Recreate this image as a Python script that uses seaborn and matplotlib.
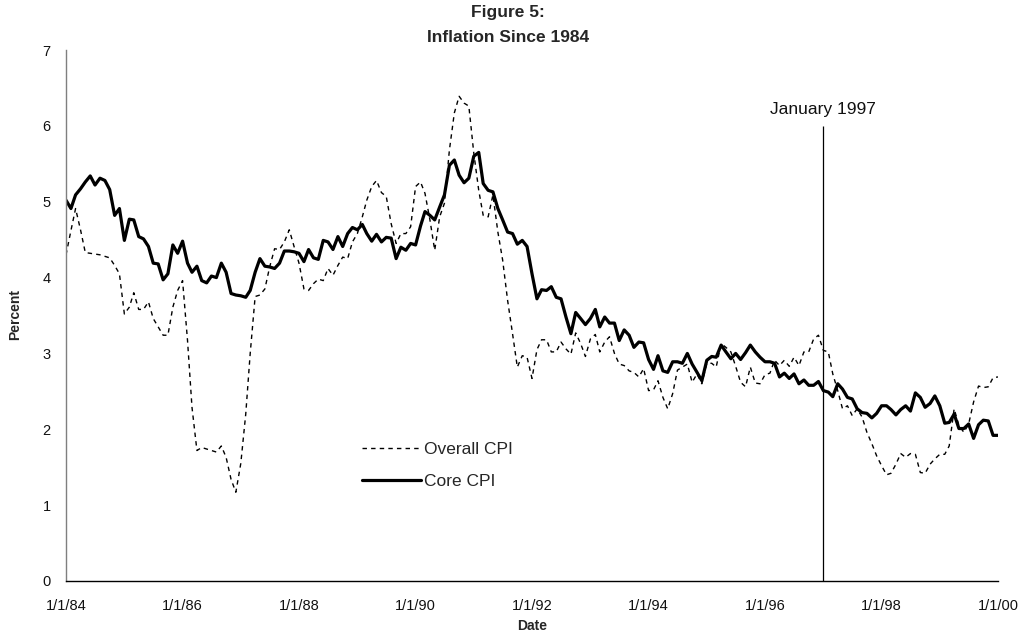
import numpy as np
import pandas as pd
import matplotlib
matplotlib.use("Agg")
import matplotlib.pyplot as plt
import seaborn as sns

# ---- data (monthly, Jan 1984 .. Jan 2000) ----
start_month = "1984-01-01"
core_cpi = [
    5.02, 4.91, 5.09, 5.17, 5.26, 5.34, 5.22, 5.31, 5.28, 5.16, 4.82, 4.91,
    4.49, 4.77, 4.76, 4.54, 4.51, 4.41, 4.19, 4.18, 3.97, 4.05, 4.43, 4.32,
    4.48, 4.19, 4.07, 4.15, 3.96, 3.93, 4.02, 4.00, 4.19, 4.07, 3.79, 3.77,
    3.76, 3.74, 3.83, 4.07, 4.25, 4.15, 4.14, 4.12, 4.19, 4.35, 4.35, 4.34,
    4.32, 4.21, 4.37, 4.26, 4.24, 4.49, 4.47, 4.37, 4.54, 4.41, 4.58, 4.66,
    4.63, 4.70, 4.58, 4.48, 4.57, 4.47, 4.53, 4.52, 4.25, 4.40, 4.36, 4.45,
    4.43, 4.68, 4.87, 4.82, 4.76, 4.93, 5.09, 5.48, 5.55, 5.35, 5.25, 5.31,
    5.60, 5.65, 5.24, 5.15, 5.13, 4.91, 4.76, 4.60, 4.58, 4.44, 4.49, 4.41,
    4.05, 3.72, 3.84, 3.83, 3.88, 3.74, 3.72, 3.48, 3.26, 3.54, 3.46, 3.38,
    3.46, 3.58, 3.35, 3.48, 3.40, 3.40, 3.17, 3.31, 3.24, 3.08, 3.15, 3.14,
    2.92, 2.79, 2.97, 2.77, 2.75, 2.89, 2.89, 2.87, 3.00, 2.86, 2.75, 2.64,
    2.91, 2.96, 2.95, 3.11, 3.02, 2.93, 3.00, 2.92, 3.01, 3.11, 3.02, 2.95,
    2.89, 2.89, 2.87, 2.69, 2.74, 2.67, 2.73, 2.60, 2.65, 2.58, 2.58, 2.63,
    2.51, 2.49, 2.43, 2.60, 2.53, 2.42, 2.40, 2.27, 2.22, 2.21, 2.15, 2.21,
    2.31, 2.31, 2.26, 2.19, 2.26, 2.31, 2.24, 2.48, 2.42, 2.29, 2.34, 2.44,
    2.31, 2.08, 2.09, 2.20, 2.01, 2.01, 2.07, 1.88, 2.06, 2.12, 2.11, 1.92,
    1.92,
]
overall_cpi = [
    4.30, 4.62, 4.91, 4.63, 4.33, 4.32, 4.31, 4.30, 4.28, 4.26, 4.16, 4.05,
    3.52, 3.61, 3.80, 3.58, 3.58, 3.68, 3.46, 3.35, 3.24, 3.24, 3.61, 3.83,
    3.96, 3.17, 2.29, 1.72, 1.76, 1.74, 1.72, 1.70, 1.78, 1.63, 1.34, 1.17,
    1.55, 2.20, 3.00, 3.75, 3.77, 3.85, 4.14, 4.38, 4.37, 4.47, 4.63, 4.41,
    4.19, 3.85, 3.83, 3.92, 3.98, 3.96, 4.12, 4.03, 4.16, 4.27, 4.25, 4.47,
    4.58, 4.80, 5.02, 5.20, 5.28, 5.12, 5.07, 4.71, 4.45, 4.58, 4.58, 4.67,
    5.20, 5.26, 5.11, 4.76, 4.36, 4.80, 4.98, 5.68, 6.17, 6.39, 6.30, 6.26,
    5.64, 5.15, 4.82, 4.80, 5.09, 4.60, 4.23, 3.70, 3.26, 2.82, 2.97, 2.95,
    2.67, 3.05, 3.18, 3.18, 3.02, 3.02, 3.15, 3.06, 2.99, 3.27, 3.13, 2.96,
    3.19, 3.25, 3.02, 3.15, 3.22, 3.00, 2.86, 2.84, 2.77, 2.75, 2.69, 2.80,
    2.51, 2.52, 2.64, 2.42, 2.27, 2.47, 2.78, 2.82, 2.86, 2.62, 2.73, 2.60,
    2.87, 2.87, 2.82, 3.13, 3.08, 3.02, 2.83, 2.62, 2.56, 2.82, 2.61, 2.60,
    2.72, 2.74, 2.91, 2.84, 2.91, 2.83, 2.95, 2.84, 3.02, 3.02, 3.19, 3.24,
    3.04, 3.02, 2.73, 2.51, 2.27, 2.31, 2.18, 2.27, 2.16, 1.96, 1.81, 1.65,
    1.52, 1.40, 1.42, 1.54, 1.68, 1.63, 1.68, 1.67, 1.43, 1.42, 1.54, 1.61,
    1.67, 1.67, 1.78, 2.27, 2.05, 1.96, 2.07, 2.36, 2.57, 2.55, 2.56, 2.68,
    2.69,
]
tick_years = [1984, 1986, 1988, 1990, 1992, 1994, 1996, 1998, 2000]
tick_labels = ["1/1/84", "1/1/86", "1/1/88", "1/1/90", "1/1/92",
               "1/1/94", "1/1/96", "1/1/98", "1/1/00"]
y_ticks = [0, 1, 2, 3, 4, 5, 6, 7]
marker_date = "1997-01-01"
marker_label = "January 1997"
marker_top = 6.0

dates = pd.date_range(start_month, periods=len(core_cpi), freq="MS")
df = pd.DataFrame({"Date": dates, "Overall CPI": overall_cpi, "Core CPI": core_cpi})

sns.set_style("white")
plt.rcParams["font.family"] = ["Liberation Sans", "DejaVu Sans"]

fig = plt.figure(figsize=(10.22, 6.35), dpi=100)
ax = fig.add_axes([66 / 1022, 54 / 635, (998 - 66) / 1022, (581 - 50) / 635])

sns.lineplot(data=df, x="Date", y="Overall CPI", ax=ax, color="black",
             linewidth=1.0, linestyle=(0, (3.2, 3.0)), label="Overall CPI")
sns.lineplot(data=df, x="Date", y="Core CPI", ax=ax, color="black",
             linewidth=2.3, label="Core CPI")

md = pd.Timestamp(marker_date)
ax.vlines(md, 0, marker_top, color="black", linewidth=0.9)
ax.text(md, marker_top + 0.12, marker_label, ha="center", va="bottom",
        fontsize=12.5, color="#111111")

ax.set_xlim(dates[0], dates[-1])
ax.set_ylim(0, 7)
ax.set_xticks([pd.Timestamp(f"{y}-01-01") for y in tick_years])
ax.set_xticklabels(tick_labels)
ax.set_yticks(y_ticks)
ax.set_yticklabels([str(v) for v in y_ticks])
ax.tick_params(axis="both", direction="out", length=5, width=0.9,
               colors="#222222", labelsize=10.5, labelcolor="#111111")
ax.tick_params(axis="x", pad=8)
ax.tick_params(axis="y", pad=6)

for s in ["top", "right"]:
    ax.spines[s].set_visible(False)
ax.spines["left"].set_color("#7f7f7f")
ax.spines["left"].set_linewidth(1.0)
ax.spines["bottom"].set_color("black")
ax.spines["bottom"].set_linewidth(1.0)

ax.set_xlabel("")
ax.set_ylabel("")
fig.text(15 / 1022, 1 - 315 / 635, "Percent", rotation=90, ha="center",
         va="center", fontsize=10, fontweight="bold")
fig.text(532 / 1022, 1 - 626 / 635, "Date", ha="center", va="center",
         fontsize=10, fontweight="bold")
fig.text(508 / 1022, 1 - 13 / 635, "Figure 5:", ha="center", va="center",
         fontsize=12.5, fontweight="bold")
fig.text(508 / 1022, 1 - 37 / 635, "Inflation Since 1984", ha="center",
         va="center", fontsize=12.5, fontweight="bold")

leg = ax.legend(loc="upper left", bbox_to_anchor=(362 / 1022, 1 - 442 / 635),
                bbox_transform=fig.transFigure, frameon=False, borderpad=0,
                borderaxespad=0, handlelength=3.4, handletextpad=0.15,
                labelspacing=0.95, fontsize=12.5)

fig.savefig("out.png", dpi=100, facecolor="white")
